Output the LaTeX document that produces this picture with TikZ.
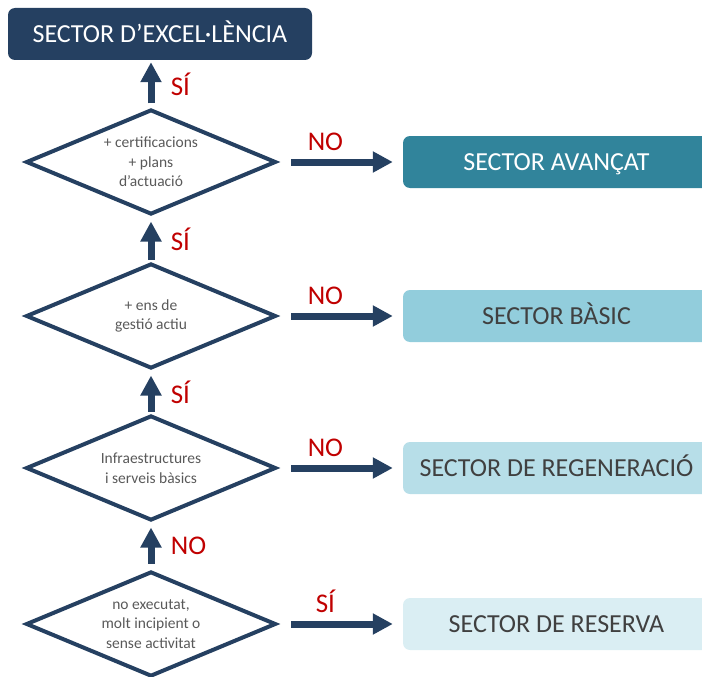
\documentclass[tikz,border=0pt]{standalone}
\usepackage{fontspec}
\setmainfont{Carlito}
\usetikzlibrary{shapes.geometric,arrows.meta}
\definecolor{navy}{HTML}{254061}
\definecolor{answred}{HTML}{C00000}
\definecolor{diamtext}{HTML}{595959}
\definecolor{boxtext}{HTML}{404040}
\definecolor{secavan}{HTML}{31849B}
\definecolor{secbas}{HTML}{92CDDC}
\definecolor{secreg}{HTML}{B7DEE8}
\definecolor{secres}{HTML}{DAEEF3}
\tikzset{
	decision/.style={diamond, draw=navy, line width=4pt, shape aspect=2.4,
		minimum width=250pt, minimum height=105pt, inner sep=0pt,
		align=center, text=diamtext, font=\fontsize{15.5}{19.5}\selectfont},
	sector/.style={rounded corners=7pt, minimum width=307pt, minimum height=52pt,
		text height=16.7pt, text depth=0pt,
		text=boxtext, font=\fontsize{26}{28}\selectfont},
	flow/.style={navy, line width=7pt, -{Triangle[length=20pt,width=20pt]}},
	answer/.style={text=answred, font=\fontsize{27}{29}\selectfont}
}
\begin{document}
\begin{tikzpicture}[x=1pt,y=-1pt]
		\useasboundingbox (0,0) rectangle (702,677);
		% top of the ladder
		\node (exc) [sector, fill=navy, text=white, minimum width=304pt] at (160,34) {SECTOR D’EXCEL·LÈNCIA};
		% the four questions
		\node (cert) [decision] at (151,162) {+ certificacions\\+ plans\\d’actuació};
		\node (ens) [decision] at (151,316) {+ ens de\\gestió actiu};
		\node (infra) [decision] at (151,468) {Infraestructures\\i serveis bàsics};
		\node (noexe) [decision] at (151,624) {no executat,\\molt incipient o\\sense activitat};
		% the sectors on the right
		\node (avan) [sector, fill=secavan, text=white] at (556.5,162) {SECTOR AVANÇAT};
		\node (basic) [sector, fill=secbas] at (556.5,316) {SECTOR BÀSIC};
		\node (regen) [sector, fill=secreg] at (556.5,468) {SECTOR DE REGENERACIÓ};
		\node (reser) [sector, fill=secres] at (556.5,624) {SECTOR DE RESERVA};
		% going up
		\draw [flow, shorten <=4pt, shorten >=2pt] (cert.north) -- (cert.north |- exc.south)
			node [answer, midway, right=13pt] {SÍ};
		\draw [flow, shorten <=2pt, shorten >=5pt] (ens.north) -- (cert.south)
			node [answer, midway, right=13pt] {SÍ};
		\draw [flow, shorten <=2pt, shorten >=5pt] (infra.north) -- (ens.south)
			node [answer, midway, right=13pt] {SÍ};
		\draw [flow, shorten <=6pt, shorten >=5pt] (noexe.north) -- (infra.south)
			node [answer, midway, right=13pt] {NO};
		% going right
		\draw [flow, shorten <=13pt, shorten >=10pt] (cert) -- (avan)
			node [answer, pos=0.38, above=4pt] {NO};
		\draw [flow, shorten <=13pt, shorten >=10pt] (ens) -- (basic)
			node [answer, pos=0.38, above=4pt] {NO};
		\draw [flow, shorten <=13pt, shorten >=10pt] (infra) -- (regen)
			node [answer, pos=0.38, above=4pt] {NO};
		\draw [flow, shorten <=13pt, shorten >=10pt] (noexe) -- (reser)
			node [answer, pos=0.38, above=4pt] {SÍ};
\end{tikzpicture}
\end{document}
